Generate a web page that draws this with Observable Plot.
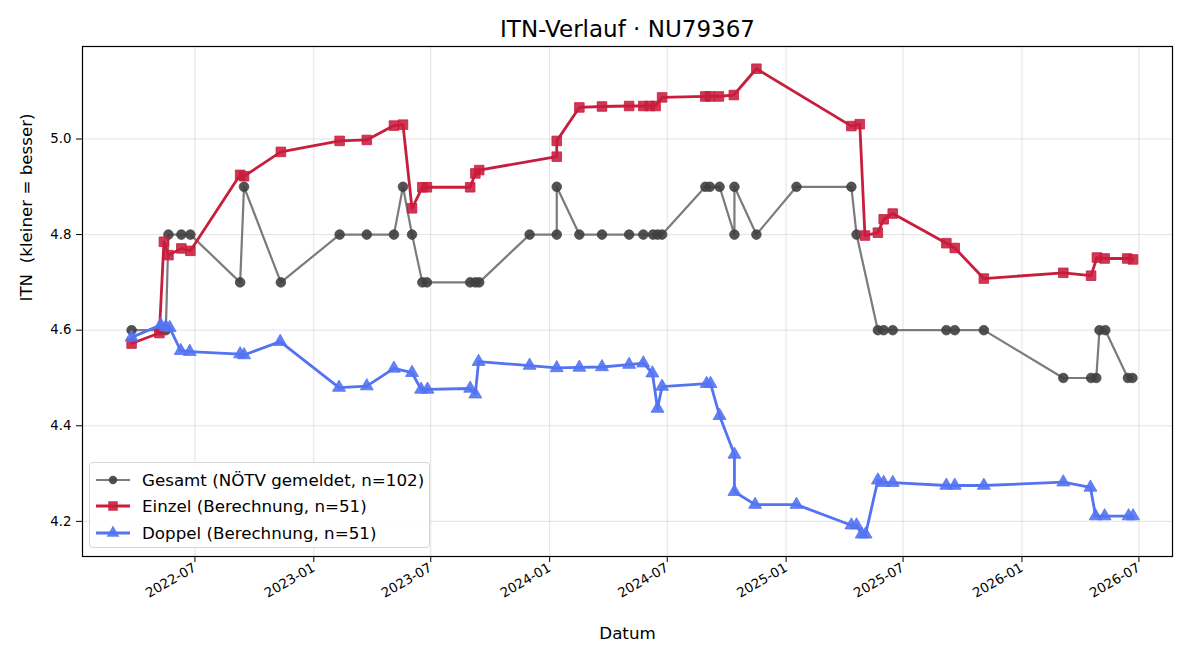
<!DOCTYPE html>
<html>
<head>
<meta charset="utf-8">
<script src="https://cdn.jsdelivr.net/npm/d3@7"></script>
<script src="https://cdn.jsdelivr.net/npm/@observablehq/plot@0.6"></script>
<style>
  body { margin: 0; background: #fff; }
  #chart { position: relative; width: 1200px; height: 660px; font-family: "DejaVu Sans", sans-serif; }
  #chart svg text { white-space: pre; }
  .legend { position: absolute; left: 89px; top: 462px; width: 341px; height: 86px;
            border: 1px solid #d6d6d6; border-radius: 4px; background: rgba(255,255,255,0.85);
            box-sizing: border-box; }
  .legend .row { position: absolute; left: 0; height: 26px; display: flex; align-items: center;
                 font-size: 16.7px; color: #000; white-space: nowrap; }
  .legend .row svg { margin-left: 5px; margin-right: 11px; }
</style>
</head>
<body>
<div id="chart"></div>
<script>
// ITN history for player NU79367: reported overall ITN and computed singles/doubles ITN

const gesamtDates = [
  "2022-03-25","2022-05-09","2022-05-17","2022-05-21","2022-06-10","2022-06-24",
  "2022-09-09","2022-09-15","2022-11-11","2023-02-10","2023-03-24","2023-05-05",
  "2023-05-19","2023-06-02","2023-06-18","2023-06-25","2023-08-31","2023-09-08",
  "2023-09-14","2023-12-01","2024-01-12","2024-01-12","2024-02-16","2024-03-22",
  "2024-05-03","2024-05-25","2024-06-09","2024-06-16","2024-06-23","2024-08-29",
  "2024-09-05","2024-09-20","2024-10-13","2024-10-13","2024-11-16","2025-01-17",
  "2025-04-12","2025-04-20","2025-05-23","2025-06-01","2025-06-15","2025-09-06",
  "2025-09-19","2025-11-03","2026-03-06","2026-04-18","2026-04-26","2026-05-01",
  "2026-05-10","2026-06-14","2026-06-21"
];
const gesamtValues = [
  4.6, 4.6, 4.6, 4.8, 4.8, 4.8,
  4.7, 4.9, 4.7, 4.8, 4.8, 4.8,
  4.9, 4.8, 4.7, 4.7, 4.7, 4.7,
  4.7, 4.8, 4.8, 4.9, 4.8, 4.8,
  4.8, 4.8, 4.8, 4.8, 4.8, 4.9,
  4.9, 4.9, 4.8, 4.9, 4.8, 4.9,
  4.9, 4.8, 4.6, 4.6, 4.6, 4.6,
  4.6, 4.6, 4.5, 4.5, 4.5, 4.6,
  4.6, 4.5, 4.5
];

const einzelDates = [
  "2022-03-25","2022-05-07","2022-05-14","2022-05-21","2022-06-10","2022-06-24",
  "2022-09-09","2022-09-15","2022-11-11","2023-02-10","2023-03-24","2023-05-05",
  "2023-05-19","2023-06-02","2023-06-18","2023-06-25","2023-08-31","2023-09-08",
  "2023-09-14","2024-01-12","2024-01-12","2024-02-16","2024-03-22","2024-05-03",
  "2024-05-25","2024-06-04","2024-06-13","2024-06-23","2024-08-29","2024-09-05",
  "2024-09-19","2024-10-12","2024-11-16","2025-04-12","2025-04-25","2025-05-03",
  "2025-05-23","2025-06-01","2025-06-15","2025-09-06","2025-09-19","2025-11-03",
  "2026-03-06","2026-04-18","2026-04-27","2026-05-09","2026-06-13","2026-06-22"
];
const einzelValues = [
  4.572, 4.594, 4.785, 4.757, 4.771, 4.766,
  4.925, 4.922, 4.973, 4.996, 4.998, 5.028,
  5.030, 4.855, 4.899, 4.899, 4.899, 4.928,
  4.935, 4.963, 4.996, 5.066, 5.068, 5.069,
  5.069, 5.069, 5.069, 5.087, 5.089, 5.089,
  5.089, 5.092, 5.147, 5.027, 5.031, 4.798,
  4.804, 4.832, 4.844, 4.782, 4.772, 4.708,
  4.720, 4.714, 4.752, 4.750, 4.750, 4.748
];

const doppelDates = [
  "2022-03-25","2022-05-09","2022-05-17","2022-05-23","2022-06-09","2022-06-23",
  "2022-09-09","2022-09-15","2022-11-10","2023-02-09","2023-03-24","2023-05-05",
  "2023-06-02","2023-06-16","2023-06-26","2023-08-31","2023-09-08","2023-09-13",
  "2023-12-01","2024-01-12","2024-02-16","2024-03-22","2024-05-03","2024-05-25",
  "2024-06-08","2024-06-16","2024-06-23","2024-08-31","2024-09-06","2024-09-20",
  "2024-10-13","2024-10-13","2024-11-14","2025-01-17","2025-04-12","2025-04-20",
  "2025-04-28","2025-05-04","2025-05-23","2025-06-01","2025-06-15","2025-09-06",
  "2025-09-19","2025-11-03","2026-03-06","2026-04-17","2026-04-25","2026-05-09",
  "2026-06-15","2026-06-22"
];
const doppelValues = [
  4.585, 4.611, 4.607, 4.605, 4.557, 4.555,
  4.550, 4.548, 4.576, 4.480, 4.483, 4.520,
  4.511, 4.476, 4.476, 4.478, 4.466, 4.534,
  4.526, 4.521, 4.522, 4.523, 4.528, 4.531,
  4.510, 4.436, 4.482, 4.488, 4.488, 4.421,
  4.340, 4.262, 4.235, 4.235, 4.192, 4.192,
  4.173, 4.173, 4.286, 4.281, 4.281, 4.275,
  4.275, 4.275, 4.282, 4.271, 4.211, 4.211,
  4.211, 4.211
];

const seriesLabels = [
  "Gesamt (NÖTV gemeldet, n=102)",
  "Einzel (Berechnung, n=51)",
  "Doppel (Berechnung, n=51)"
];
const xTickDates = ["2022-07-01","2023-01-01","2023-07-01","2024-01-01","2024-07-01",
                    "2025-01-01","2025-07-01","2026-01-01","2026-07-01"];
const yTicks = [4.2, 4.4, 4.6, 4.8, 5.0];
const xDomain = ["2022-01-08", "2026-08-22"];
const yDomain = [4.1265, 5.1935];

const titleText = "ITN-Verlauf · NU79367";
const xLabel = "Datum";
const yLabel = "ITN  (kleiner = besser)";

const colors = { gesamtLine: "#7b7b7b", gesamtDot: "#3f3f3f", einzel: "#c81d3c", doppel: "#5373f2" };

const toRows = (dates, values) => dates.map((d, i) => ({ date: new Date(d), itn: values[i] }));
const gesamt = toRows(gesamtDates, gesamtValues);
const einzel = toRows(einzelDates, einzelValues);
const doppel = toRows(doppelDates, doppelValues);

const chart = Plot.plot({
  width: 1200,
  height: 660,
  marginTop: 46,
  marginLeft: 82,
  marginRight: 28,
  marginBottom: 104,
  style: { fontFamily: "DejaVu Sans, sans-serif", fontSize: "13.3px", color: "#000", background: "#fff" },
  x: { type: "utc", domain: xDomain.map(d => new Date(d)) },
  y: { domain: yDomain },
  marks: [
    Plot.gridX(xTickDates.map(d => new Date(d)), { stroke: "#b0b0b0", strokeOpacity: 0.35, strokeWidth: 1 }),
    Plot.gridY(yTicks, { stroke: "#b0b0b0", strokeOpacity: 0.35, strokeWidth: 1 }),

    Plot.line(gesamt, { x: "date", y: "itn", stroke: colors.gesamtLine, strokeWidth: 2.2 }),
    Plot.dot(gesamt, { x: "date", y: "itn", symbol: "circle", r: 4.8, fill: colors.gesamtDot, fillOpacity: 0.9, stroke: colors.gesamtDot, strokeOpacity: 0.9, strokeWidth: 0.8 }),

    Plot.line(einzel, { x: "date", y: "itn", stroke: colors.einzel, strokeWidth: 2.8 }),
    Plot.dot(einzel, { x: "date", y: "itn", symbol: "square", r: 5.4, fill: colors.einzel, fillOpacity: 0.88, stroke: colors.einzel, strokeWidth: 0.8 }),

    Plot.line(doppel, { x: "date", y: "itn", stroke: colors.doppel, strokeWidth: 2.8 }),
    Plot.dot(doppel, { x: "date", y: "itn", symbol: "triangle", r: 4.8, fill: colors.doppel, fillOpacity: 0.9, stroke: colors.doppel, strokeWidth: 0.8 }),

    Plot.frame({ stroke: "#000", strokeWidth: 1.2 }),

    Plot.axisY({ ticks: yTicks, tickFormat: d3.format(".1f"), tickSize: 6, tickPadding: 5, label: null, fontSize: 13.3 }),
    Plot.axisX({ ticks: xTickDates.map(d => new Date(d)), tickFormat: d3.utcFormat("%Y-%m"), tickSize: 6,
                 tickPadding: 4, tickRotate: -30, label: null, fontSize: 13.3 }),

    Plot.text([titleText], { frameAnchor: "top", dy: -17, fontSize: 23, lineAnchor: "middle" }),
    Plot.text([xLabel], { frameAnchor: "bottom", dy: 77, fontSize: 16.7, lineAnchor: "middle" }),
    Plot.text([yLabel], { frameAnchor: "left", dx: -56, rotate: -90, fontSize: 16.7, lineAnchor: "middle" })
  ]
});

const root = document.getElementById("chart");
root.appendChild(chart);

// legend box in the lower-left corner of the plot area
const legend = d3.select(root).append("div").attr("class", "legend");
const handles = [
  { line: colors.gesamtLine, fill: colors.gesamtDot, symbol: d3.symbolCircle, size: Math.PI * 4.2 * 4.2, lw: 2.2 },
  { line: colors.einzel, fill: colors.einzel, symbol: d3.symbolSquare, size: Math.PI * 5.4 * 5.4, lw: 2.8 },
  { line: colors.doppel, fill: colors.doppel, symbol: d3.symbolTriangle, size: Math.PI * 4.8 * 4.8, lw: 2.8 }
];
const rowTops = [4, 30, 57];
seriesLabels.forEach((label, i) => {
  const h = handles[i];
  const row = legend.append("div").attr("class", "row").style("top", rowTops[i] + "px");
  const svg = row.append("svg").attr("width", 36).attr("height", 20);
  svg.append("line").attr("x1", 1).attr("x2", 35).attr("y1", 10).attr("y2", 10)
     .attr("stroke", h.line).attr("stroke-width", h.lw);
  svg.append("path").attr("d", d3.symbol(h.symbol, h.size)()).attr("transform", "translate(18,10)")
     .attr("fill", h.fill).attr("fill-opacity", 0.9);
  row.append("span").text(label);
});
</script>
</body>
</html>
